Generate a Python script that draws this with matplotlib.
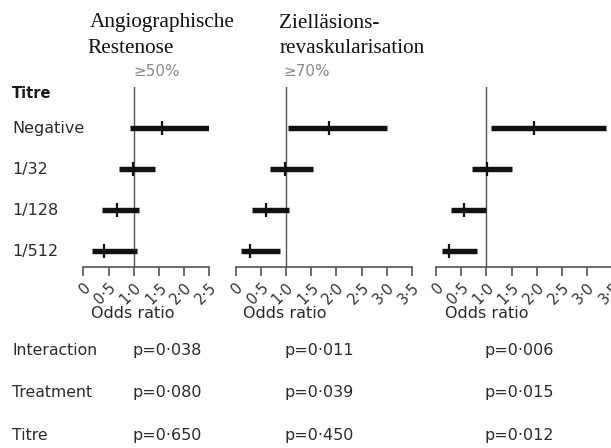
import matplotlib
matplotlib.use("Agg")
import matplotlib.pyplot as plt
from matplotlib.transforms import blended_transform_factory

# ---- data ----
rows = ["Negative", "1/32", "1/128", "1/512"]
p1_or = [1.57, 0.98, 0.67, 0.42]
p1_lo = [0.93, 0.71, 0.38, 0.17]
p1_hi = [2.55, 1.43, 1.10, 1.06]
p2_or = [1.85, 0.98, 0.60, 0.29]
p2_lo = [1.05, 0.68, 0.32, 0.10]
p2_hi = [3.00, 1.53, 1.07, 0.88]
p3_or = [1.95, 1.02, 0.55, 0.26]
p3_lo = [1.09, 0.71, 0.29, 0.12]
p3_hi = [3.37, 1.51, 1.00, 0.82]
ticks1 = [0, 0.5, 1.0, 1.5, 2.0, 2.5]
ticks23 = [0, 0.5, 1.0, 1.5, 2.0, 2.5, 3.0, 3.5]
tick_labels1 = ["0", "0·5", "1·0", "1·5", "2·0", "2·5"]
tick_labels23 = ["0", "0·5", "1·0", "1·5", "2·0", "2·5", "3·0", "3·5"]
stat_names = ["Interaction", "Treatment", "Titre"]
p1_stats = ["p=0·038", "p=0·080", "p=0·650"]
p2_stats = ["p=0·011", "p=0·039", "p=0·450"]
p3_stats = ["p=0·006", "p=0·015", "p=0·012"]

W, H = 611, 448
fig = plt.figure(figsize=(W / 100, H / 100), dpi=100)
fig.patch.set_facecolor("white")

SANS = "DejaVu Sans"
SERIF = "Liberation Serif"
TXT = "#2b2b2b"
AXC = "#555555"


def fx(x):
    return x / W


def fy(y):
    return 1 - y / H


top_px, bot_px = 87, 267


def make_ax(x0, x1, xmax):
    ax = fig.add_axes([fx(x0), fy(bot_px), fx(x1) - fx(x0), (bot_px - top_px) / H])
    ax.set_xlim(0, xmax)
    ax.set_ylim(-0.39, 4.0)
    for s in ["top", "right", "left"]:
        ax.spines[s].set_visible(False)
    ax.spines["bottom"].set_color(AXC)
    ax.spines["bottom"].set_linewidth(1.2)
    ax.set_yticks([])
    ax.patch.set_alpha(0)
    ax.tick_params(axis="x", direction="out", length=6.5, width=1.2,
                   color=AXC, pad=3, labelcolor="#333333")
    ax.axvline(1.0, color="#555555", lw=1.0, zorder=1)
    return ax


def draw(ax, orv, lo, hi, ticks, labels):
    ys = [3, 2, 1, 0]
    ax.hlines(ys, lo, hi, colors="#111111", linewidth=3.9,
              capstyle="butt", zorder=3)
    ax.plot(orv, ys, linestyle="none", marker="|", markersize=9.5,
            markeredgewidth=1.6, color="#111111", zorder=4)
    ax.set_xticks(ticks)
    ax.set_xticklabels(labels, rotation=45, ha="right", va="top",
                       rotation_mode="anchor", fontsize=10.5, family=SANS)


ax1 = make_ax(83.3, 209.3, 2.5)
draw(ax1, p1_or, p1_lo, p1_hi, ticks1, tick_labels1)
ax2 = make_ax(235.5, 412.0, 3.5)
draw(ax2, p2_or, p2_lo, p2_hi, ticks23, tick_labels23)
ax3 = make_ax(436.0, 612.5, 3.5)
draw(ax3, p3_or, p3_lo, p3_hi, ticks23, tick_labels23)

# row labels
tr = blended_transform_factory(fig.transFigure, ax1.transData)
for k, name in zip([3, 2, 1, 0], rows):
    ax1.text(fx(12), k, name, transform=tr, ha="left", va="center",
             fontsize=11.5, family=SANS, color=TXT, clip_on=False)

fig.text(fx(12), fy(93), "Titre", ha="left", va="center", fontsize=10.5,
         family=SANS, fontweight="bold", color="#1a1a1a")

# titles
title_kw = dict(ha="left", va="baseline", fontsize=15.3, family=SERIF,
                color="#111111")
fig.text(fx(90), fy(27), "Angiographische", **title_kw)
fig.text(fx(87), fy(53), "Restenose", **title_kw)
fig.text(fx(279), fy(28), "Zielläsions-", **title_kw)
fig.text(fx(280), fy(53), "revaskularisation", **title_kw)
fig.text(fx(133), fy(71), "≥50%", ha="left", va="center", fontsize=11,
         family=SANS, color="#8a8a8a")
fig.text(fx(283), fy(71), "≥70%", ha="left", va="center", fontsize=11,
         family=SANS, color="#8a8a8a")

# odds ratio labels
for x in [91, 243, 445]:
    fig.text(fx(x), fy(314), "Odds ratio", ha="left", va="center",
             fontsize=11.5, family=SANS, color=TXT)

# stats table
row_y = [350, 392, 435]
for y, name, a, b, c in zip(row_y, stat_names, p1_stats, p2_stats, p3_stats):
    fig.text(fx(12), fy(y), name, ha="left", va="center", fontsize=11.3,
             family=SANS, color=TXT)
    fig.text(fx(132), fy(y), a, ha="left", va="center", fontsize=11.5,
             family=SANS, color=TXT)
    fig.text(fx(284), fy(y), b, ha="left", va="center", fontsize=11.5,
             family=SANS, color=TXT)
    fig.text(fx(484), fy(y), c, ha="left", va="center", fontsize=11.5,
             family=SANS, color=TXT)

fig.savefig("out.png", dpi=100)
